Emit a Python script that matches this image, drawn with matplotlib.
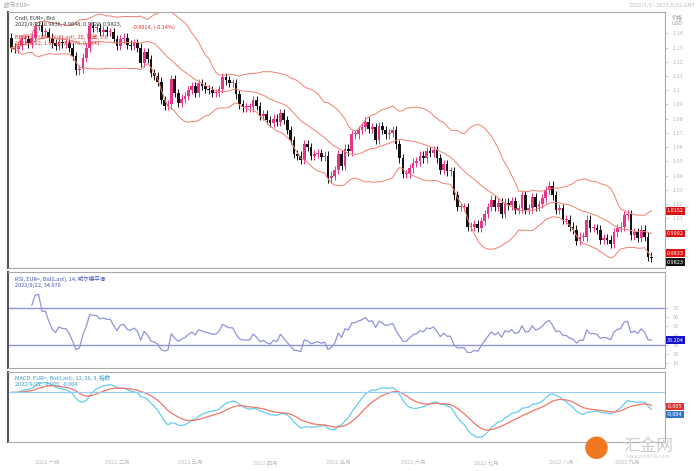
import numpy as np
import pandas as pd
import matplotlib
matplotlib.use('Agg')
import matplotlib.pyplot as plt
from matplotlib.patches import Rectangle

plt.rcParams['font.family'] = ['Noto Sans CJK SC', 'DejaVu Sans']

# daily EUR= closes, per month
jan = [1.130, 1.129, 1.131, 1.136, 1.136, 1.133, 1.137, 1.145, 1.146, 1.141, 1.141,
       1.137, 1.133, 1.131, 1.134, 1.133, 1.133, 1.130, 1.124, 1.114, 1.115]
feb = [1.123, 1.130, 1.145, 1.144, 1.144, 1.141, 1.142, 1.141, 1.141, 1.136,
       1.131, 1.136, 1.137, 1.132, 1.131, 1.133, 1.130, 1.119, 1.127, 1.122]
mar = [1.112, 1.110, 1.106, 1.093, 1.089, 1.090, 1.108, 1.098, 1.091, 1.094, 1.096, 1.100,
       1.103, 1.098, 1.105, 1.103, 1.101, 1.100, 1.098, 1.098, 1.101, 1.109, 1.107]
apr = [1.105, 1.105, 1.097, 1.090, 1.088, 1.088, 1.088, 1.093, 1.089, 1.082, 1.083,
       1.079, 1.077, 1.080, 1.078, 1.084, 1.079, 1.072, 1.065, 1.055, 1.054]
may = [1.051, 1.062, 1.060, 1.054, 1.055, 1.056, 1.053, 1.054, 1.038, 1.040, 1.044,
       1.055, 1.047, 1.059, 1.057, 1.069, 1.069, 1.072, 1.074, 1.078, 1.073, 1.074]
jun = [1.065, 1.075, 1.072, 1.069, 1.070, 1.072, 1.062, 1.052, 1.041, 1.041, 1.045,
       1.049, 1.050, 1.054, 1.052, 1.057, 1.056, 1.058, 1.052, 1.044, 1.048, 1.043]
jul = [1.043, 1.026, 1.018, 1.018, 1.018, 1.004, 1.004, 1.006, 1.003, 1.008, 1.013,
       1.018, 1.023, 1.018, 1.021, 1.013, 1.021, 1.019, 1.022, 1.016, 1.017]
aug = [1.026, 1.016, 1.017, 1.025, 1.018, 1.020, 1.024, 1.030, 1.033, 1.026, 1.016, 1.017,
       1.009, 1.009, 1.004, 1.002, 0.994, 0.997, 0.997, 1.009, 1.003, 1.003, 1.002]
sep = [0.995, 0.996, 0.995, 0.992, 1.000, 1.003, 1.004, 1.012, 1.013, 0.998,
       1.000, 0.996, 1.002, 0.997, 0.983, 0.982]
months = [jan, feb, mar, apr, may, jun, jul, aug, sep]
month_labels = ['2022 一月', '2022 二月', '2022 三月', '2022 四月', '2022 五月',
                '2022 六月', '2022 七月', '2022 八月', '2022 九月']
price_ticks = [1.14, 1.13, 1.12, 1.11, 1.10, 1.09, 1.08, 1.07, 1.06, 1.05, 1.04, 1.03, 1.02, 1.01]
rsi_ticks = [70, 60, 50, 40, 30, 20, 10]

close = pd.Series(np.concatenate(months))
opn = close.shift(1).fillna(1.137)
x = np.arange(len(close))
hi = np.maximum(opn, close) + 0.003
lo = np.minimum(opn, close) - 0.003

# indicators
mid = close.rolling(20, min_periods=1).mean()
sd = close.rolling(20, min_periods=1).std().fillna(0)
up_b, lo_b = mid + 2 * sd, mid - 2 * sd
d = close.diff().fillna(0)
g = d.clip(lower=0).ewm(alpha=1 / 14, adjust=True).mean()
l = (-d.clip(upper=0)).ewm(alpha=1 / 14, adjust=True).mean()
rsi = 100 - 100 / (1 + g / l.replace(0, 1e-9))
rsi.iloc[:6] = np.nan
macd = close.ewm(span=12, adjust=False).mean() - close.ewm(span=26, adjust=False).mean()
sig = macd.ewm(span=9, adjust=False).mean()

W, H = 699, 471
fig = plt.figure(figsize=(W / 100, H / 100), dpi=100)


def ax_px(x0, y0, x1, y1):
    return fig.add_axes([x0 / W, 1 - y1 / H, (x1 - x0) / W, (y1 - y0) / H])


gray = '#aaaaaa'
fig.text(4 / W, 1 - 5 / H, '欧元 EUR=', fontsize=4, color='#999999', va='center')
fig.text(695 / W, 1 - 5 / H, '2022/1/3 - 2022/9/22 GMT', fontsize=4, color='#bbbbbb',
         va='center', ha='right')

ax1 = ax_px(8, 12, 665, 268)
ax2 = ax_px(8, 272, 665, 368)
ax3 = ax_px(8, 372, 665, 442)
for a in (ax1, ax2, ax3):
    a.set_xlim(-1, len(close) + 3)
    a.yaxis.tick_right()
    a.tick_params(labelsize=4, colors='#bbbbbb', length=2, width=0.5)
    a.set_xticks([])
    for s in a.spines.values():
        s.set_color(gray)
        s.set_linewidth(0.8)
    a.spines['left'].set_color('#555555')
    a.spines['left'].set_linewidth(1.5)

# candles
for i in x:
    c = '#e8338a' if close[i] >= opn[i] else '#111111'
    ax1.vlines(i, lo[i], hi[i], color=c, lw=0.7)
    bot = min(opn[i], close[i])
    ax1.add_patch(Rectangle((i - 0.4, bot), 0.8, max(abs(close[i] - opn[i]), 0.0008),
                            color=c, lw=0))
ax1.plot(x, up_b, color='#f08070', lw=0.7)
ax1.plot(x, mid, color='#f08070', lw=0.7)
ax1.plot(x, lo_b, color='#f08070', lw=0.7)
ax1.set_ylim(0.975, 1.155)
ax1.set_yticks(price_ticks)
ax1.set_yticklabels([f'{t:g}' for t in price_ticks])
ax1.text(1.01, 0.95, '价格\nUSD', transform=ax1.transAxes, fontsize=4, color='#999999')
ax1.text(0.01, 0.985, 'Cndl, EUR=, Bid\n2022/9/22, 0.9836, 0.9848, 0.9822, 0.9823,',
         transform=ax1.transAxes, fontsize=4, va='top', color='#333333')
ax1.text(0.188, 0.952, '-0.0014, (-0.14%)', transform=ax1.transAxes, fontsize=4,
         va='top', color='#e03030')
ax1.text(0.01, 0.915, 'BBand, EUR=, Bid(Last), 20, 简单, 2.0\n2022/9/22, 1.0110, 0.9976, 0.9841',
         transform=ax1.transAxes, fontsize=4, va='top', color='#e03030')
for yv, lab, col in [(up_b.iloc[-1], f'{up_b.iloc[-1]:.4f}', '#dd1111'),
                     (mid.iloc[-1], f'{mid.iloc[-1]:.4f}', '#dd1111'),
                     (lo_b.iloc[-1] + 0.002, f'{lo_b.iloc[-1]:.4f}', '#dd1111'),
                     (close.iloc[-1] - 0.003, '0.9823', '#111111')]:
    ax1.text(1.003, yv, lab, transform=ax1.get_yaxis_transform(), fontsize=4,
             color='white', va='center', bbox=dict(fc=col, ec='none', pad=1))

ax2.plot(x, rsi, color='#8f94dc', lw=0.9)
ax2.axhline(70, color='#8f94dc', lw=1)
ax2.axhline(30, color='#8f94dc', lw=1)
ax2.set_ylim(5, 109)
ax2.set_yticks(rsi_ticks)
ax2.text(0.01, 0.96, 'RSI, EUR=, Bid(Last), 14, 威尔德平滑\n2022/9/22, 34.070',
         transform=ax2.transAxes, fontsize=4, va='top', color='#4455bb')
ax2.text(1.003, rsi.iloc[-1], f'{rsi.iloc[-1]:.3f}', transform=ax2.get_yaxis_transform(),
         fontsize=4, color='white', va='center', bbox=dict(fc='#1111cc', ec='none', pad=1))

ax3.plot(x, macd, color='#66ccee', lw=0.9)
ax3.plot(x, sig, color='#ee7766', lw=0.9)
ax3.axhline(0, color='#99ccee', lw=0.8)
ax3.set_ylim(macd.min() * 1.1, -macd.min() * 0.45)
ax3.set_yticks([])
ax3.text(0.01, 0.96, 'MACD, EUR=, Bid(Last), 12, 26, 9, 指数\n2022/9/22, -0.005, -0.004',
         transform=ax3.transAxes, fontsize=4, va='top', color='#3399cc')
ax3.text(1.003, 0.47, f'{macd.iloc[-1]:.3f}', transform=ax3.transAxes,
         fontsize=4, color='white', va='bottom', bbox=dict(fc='#dd3333', ec='none', pad=1))
ax3.text(1.003, 0.43, f'{sig.iloc[-1]:.3f}', transform=ax3.transAxes,
         fontsize=4, color='white', va='top', bbox=dict(fc='#3377cc', ec='none', pad=1))

# month labels under the bottom panel
start = 0
for m, lab in zip(months, month_labels):
    fig.text((8 + (start + len(m) / 2 + 1) / (len(close) + 4) * 657) / W, 1 - 464 / H, lab,
             fontsize=4, color='#bbbbbb', ha='center')
    start += len(m)

fig.text(596 / W, 1 - 450 / H, '\u25cf', fontsize=18, color='#f07820', ha='center', va='center')
fig.text(648 / W, 1 - 446 / H, '汇金网', fontsize=12, color='#cccccc', ha='center', va='center')
fig.text(648 / W, 1 - 458 / H, 'www.gold678.com', fontsize=3.5, color='#cccccc', ha='center')

fig.savefig('out.png', dpi=100, facecolor='white')
